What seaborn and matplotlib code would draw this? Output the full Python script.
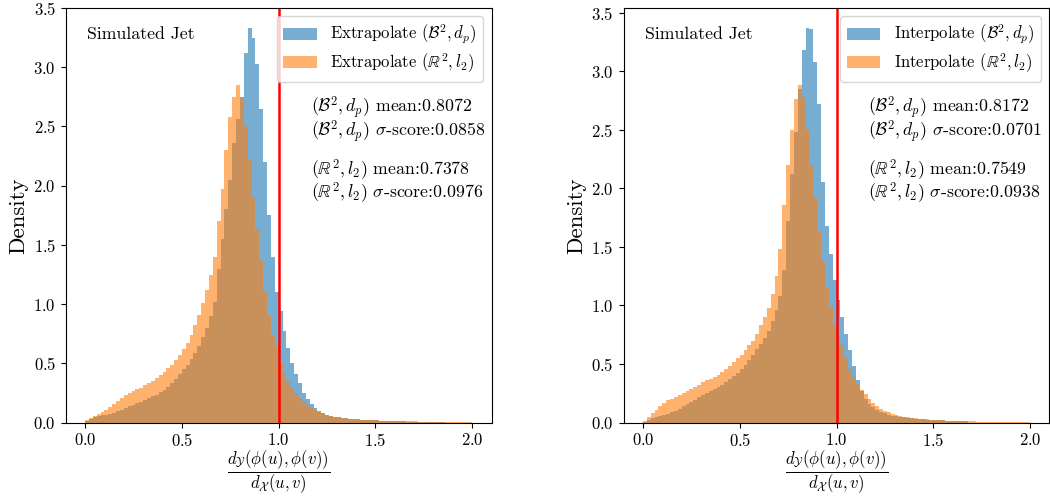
import matplotlib
matplotlib.use("Agg")
import matplotlib.pyplot as plt
import numpy as np
import pandas as pd
import seaborn as sns

# histogram bins (width 0.02 over [0, 2])
bin_centers = np.round(np.arange(0.01, 2.0, 0.02), 2)

# densities, one value per bin
extrap_b2 = [
    0.01, 0.03, 0.045, 0.055, 0.062, 0.068, 0.074, 0.082, 0.095, 0.11,
    0.125, 0.138, 0.15, 0.162, 0.178, 0.193, 0.207, 0.222, 0.237, 0.255,
    0.275, 0.30, 0.33, 0.37, 0.41, 0.45, 0.49, 0.54, 0.59, 0.65,
    0.72, 0.80, 0.90, 1.02, 1.30, 1.55, 1.80, 2.05, 2.36, 2.56,
    2.75, 3.12, 3.33, 3.25, 3.03, 2.65, 2.20, 1.75, 1.40, 1.10,
    0.94, 0.77, 0.63, 0.50, 0.41, 0.33, 0.25, 0.20, 0.16, 0.125,
    0.10, 0.08, 0.068, 0.057, 0.049, 0.043, 0.038, 0.035, 0.032, 0.03,
    0.027, 0.025, 0.023, 0.021, 0.02, 0.018, 0.017, 0.015, 0.014, 0.013,
    0.012, 0.011, 0.01, 0.009, 0.008, 0.007, 0.006, 0.005, 0.004, 0.004,
    0.003, 0.003, 0.002, 0, 0, 0, 0, 0, 0, 0,
]
extrap_r2 = [
    0.02, 0.04, 0.055, 0.075, 0.092, 0.11, 0.135, 0.16, 0.18, 0.205,
    0.23, 0.25, 0.265, 0.28, 0.295, 0.315, 0.335, 0.355, 0.38, 0.405,
    0.43, 0.46, 0.49, 0.53, 0.57, 0.62, 0.67, 0.74, 0.82, 0.91,
    1.01, 1.12, 1.25, 1.40, 1.70, 1.97, 2.30, 2.58, 2.75, 2.85,
    2.75, 2.50, 2.22, 1.90, 1.63, 1.37, 1.10, 0.90, 0.74, 0.65,
    0.50, 0.42, 0.35, 0.29, 0.25, 0.21, 0.18, 0.145, 0.125, 0.105,
    0.09, 0.078, 0.068, 0.058, 0.05, 0.045, 0.04, 0.035, 0.031, 0.028,
    0.026, 0.024, 0.022, 0.021, 0.02, 0.018, 0.017, 0.016, 0.015, 0.014,
    0.013, 0.012, 0.012, 0.011, 0.01, 0.01, 0.009, 0.009, 0.008, 0.008,
    0.007, 0.007, 0.006, 0.006, 0.005, 0.005, 0.005, 0.004, 0.004, 0.004,
]
interp_b2 = [
    0.005, 0.025, 0.037, 0.047, 0.056, 0.065, 0.076, 0.088, 0.102, 0.118,
    0.138, 0.155, 0.175, 0.195, 0.215, 0.237, 0.255, 0.27, 0.29, 0.305,
    0.325, 0.345, 0.37, 0.395, 0.42, 0.455, 0.49, 0.535, 0.58, 0.625,
    0.67, 0.72, 0.78, 0.87, 0.96, 1.08, 1.30, 1.72, 2.12, 2.48,
    2.85, 3.18, 3.37, 3.36, 3.08, 2.72, 2.05, 1.68, 1.44, 1.22,
    1.05, 0.90, 0.76, 0.62, 0.48, 0.36, 0.27, 0.20, 0.16, 0.13,
    0.11, 0.09, 0.078, 0.068, 0.06, 0.054, 0.05, 0.045, 0.04, 0.036,
    0.033, 0.03, 0.028, 0.026, 0.024, 0.022, 0.02, 0.018, 0.016, 0.014,
    0.013, 0.012, 0.011, 0.01, 0, 0, 0, 0, 0, 0,
    0, 0, 0, 0, 0, 0, 0, 0, 0, 0,
]
interp_r2 = [
    0.01, 0.05, 0.08, 0.11, 0.14, 0.17, 0.19, 0.205, 0.22, 0.235,
    0.255, 0.27, 0.29, 0.305, 0.325, 0.345, 0.36, 0.375, 0.39, 0.405,
    0.43, 0.455, 0.48, 0.515, 0.55, 0.58, 0.62, 0.66, 0.70, 0.76,
    0.83, 0.90, 0.98, 1.10, 1.25, 1.48, 1.86, 2.20, 2.50, 2.76,
    2.88, 2.78, 2.50, 2.20, 1.92, 1.63, 1.38, 1.15, 0.98, 0.83,
    0.74, 0.66, 0.56, 0.46, 0.39, 0.33, 0.28, 0.24, 0.20, 0.165,
    0.14, 0.12, 0.10, 0.087, 0.076, 0.066, 0.058, 0.05, 0.045, 0.04,
    0.036, 0.033, 0.03, 0.027, 0.025, 0.023, 0.021, 0.019, 0.017, 0.016,
    0.015, 0.014, 0.013, 0.012, 0.011, 0.01, 0.009, 0.009, 0.008, 0.008,
    0.007, 0.007, 0.006, 0.006, 0.005, 0.005, 0.005, 0.004, 0.004, 0.004,
]

panels = [
    ("Extrapolate", extrap_b2, extrap_r2, ["0.8072", "0.0858", "0.7378", "0.0976"], 3.5),
    ("Interpolate", interp_b2, interp_r2, ["0.8172", "0.0701", "0.7549", "0.0938"], 3.54),
]

plt.rcParams["font.family"] = "serif"
plt.rcParams["font.serif"] = ["cmr10"]
plt.rcParams["mathtext.fontset"] = "cm"
plt.rcParams["axes.formatter.use_mathtext"] = True
plt.rcParams["axes.unicode_minus"] = False

fig, axs = plt.subplots(1, 2, figsize=(10.5, 4.96), dpi=100)
fig.subplots_adjust(left=0.0626, right=0.9995, bottom=0.148, top=0.984, wspace=0.31)

b2 = r"$(\mathcal{B}^2, d_p)$"
r2 = r"$(\mathbb{R}^2, l_2)$"

for ax, (mode, vb, vr, stats, ytop) in zip(axs, panels):
    df = pd.DataFrame({"x": bin_centers, "b2": vb, "r2": vr})
    sns.histplot(data=df, x="x", weights="b2", binwidth=0.02, binrange=(0, 2),
                 stat="count", color="C0", alpha=0.6, linewidth=0,
                 label=f"{mode} {b2}", ax=ax)
    sns.histplot(data=df, x="x", weights="r2", binwidth=0.02, binrange=(0, 2),
                 stat="count", color="C1", alpha=0.6, linewidth=0,
                 label=f"{mode} {r2}", ax=ax)
    ax.axvline(1.0, color="red", lw=1.8)

    ax.text(0.05, 0.955, "Simulated Jet", transform=ax.transAxes,
            fontsize=12.8, va="top", ha="left")
    block_b2 = f"{b2} mean:{stats[0]}\n{b2} $\\sigma$-score:{stats[1]}"
    block_r2 = f"{r2} mean:{stats[2]}\n{r2} $\\sigma$-score:{stats[3]}"
    for ypos, block in zip([0.731, 0.580], [block_b2, block_r2]):
        ax.text(0.575, ypos, block, transform=ax.transAxes, fontsize=12.8,
                va="center", ha="left", linespacing=0.85)

    ax.legend(loc="upper right", fontsize=12, labelspacing=0.3)
    ax.set_xticks([0.0, 0.5, 1.0, 1.5, 2.0])
    ax.set_xlim(-0.1, 2.1)
    ax.set_ylim(0, ytop)
    ax.tick_params(labelsize=12)
    ax.set_ylabel("Density", fontsize=16.5)
    ax.set_xlabel(r"$\dfrac{d_{\mathcal{Y}}(\phi(u),\phi(v))}{d_{\mathcal{X}}(u,v)}$",
                  fontsize=12, labelpad=-1)

fig.savefig("out.png", dpi=100)
